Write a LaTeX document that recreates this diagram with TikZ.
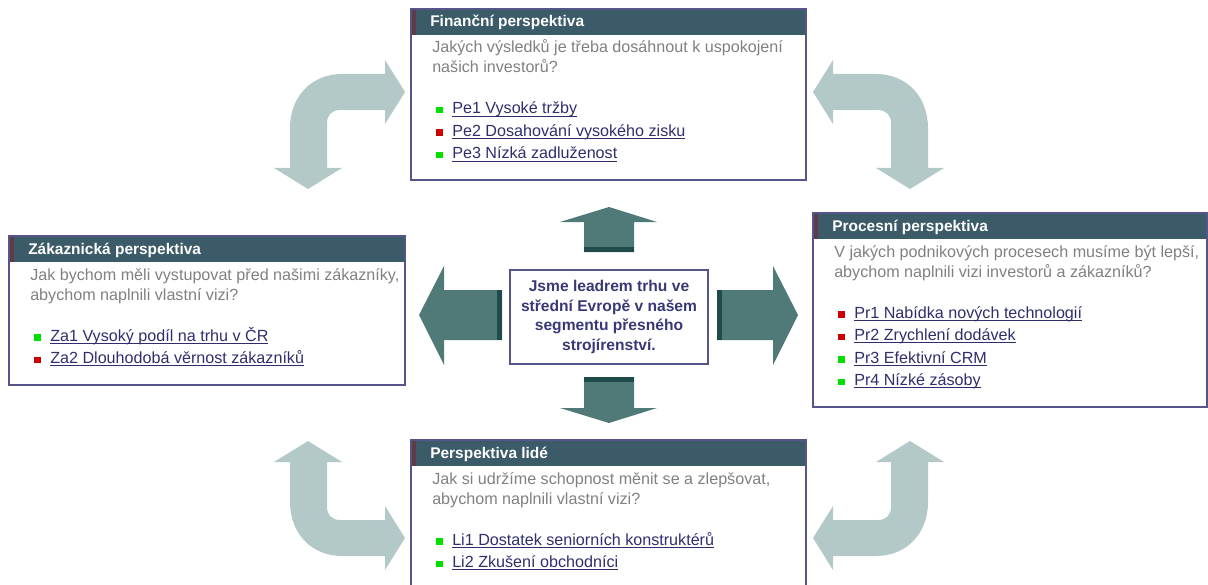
\documentclass[tikz,border=0pt]{standalone}
\usepackage{fontspec}
\setmainfont{Liberation Sans}
\definecolor{hlava}{HTML}{3B5B68}
\definecolor{pruh}{HTML}{5E3B46}
\definecolor{ramec}{HTML}{55558A}
\definecolor{otazka}{HTML}{808080}
\definecolor{odkaz}{HTML}{2E2E6E}
\definecolor{zelena}{HTML}{00E000}
\definecolor{cervena}{HTML}{CC0000}
\definecolor{sipka}{HTML}{4F7A78}
\definecolor{sipkastin}{HTML}{1F4C4A}
\definecolor{svetla}{HTML}{B3C9C8}
\definecolor{vizetext}{HTML}{383878}
\newcommand{\podtrh}[1]{\setbox0\hbox{#1}\rlap{\rule[-1.8pt]{\wd0}{0.6pt}}\box0}

\tikzset{
  hdr/.style={anchor=base west, inner sep=0pt, text=white, font=\fontsize{11.6}{14}\selectfont\bfseries},
  ques/.style={anchor=base west, inner sep=0pt, text=otazka, font=\fontsize{12.1}{14}\selectfont},
  item/.style={anchor=base west, inner sep=0pt, text=odkaz, font=\fontsize{12.1}{14}\selectfont},
  vizebox/.style={draw=ramec, line width=1.1pt, minimum width=148.5pt, minimum height=70.5pt,
    align=center, text=vizetext, font=\fontsize{11.7}{14.6}\selectfont\bfseries},
  ohyb/.pic={
    \fill[svetla] (405,92) -- (385,60) -- (385,74) -- (342,74)
      .. controls (311,74) and (290,97) .. (290,128) -- (290,168) -- (274,168)
      -- (308,189) -- (342,168) -- (327,168) -- (327,123)
      .. controls (327,115) and (332,110) .. (340,110) -- (385,110) -- (385,124) -- cycle;
  }
}

\begin{document}
\begin{tikzpicture}[x=0.75pt,y=-0.75pt]
\useasboundingbox (0,0) rectangle (1208,585);

% Curved arrows
\pic at (0,0) {ohyb};
\pic[xscale=-1] at (1218,0) {ohyb};
\pic[yscale=-1] at (0,630) {ohyb};
\pic[scale=-1] at (1218,630) {ohyb};

% Financni perspektiva
\fill[hlava] (411,9) rectangle (806,35);
\fill[pruh] (411,9) rectangle (416,35);
\draw[ramec, line width=0.8pt] (411,9) rectangle (806,180);
\node[hdr] (finH) at (430,27) {Finanční perspektiva};
\node[ques] (finQa) at (432,53) {Jakých výsledků je třeba dosáhnout k uspokojení};
\node[ques] (finQb) at (432,73) {našich investorů?};
\fill[zelena] (436,107) rectangle (442.5,113.5);
\node[item] (fin1) at (452,114) {\podtrh{Pe1 Vysoké tržby}};
\fill[cervena] (436,129.5) rectangle (442.5,136);
\node[item] (fin2) at (452,136.5) {\podtrh{Pe2 Dosahování vysokého zisku}};
\fill[zelena] (436,152) rectangle (442.5,158.5);
\node[item] (fin3) at (452,159) {\podtrh{Pe3 Nízká zadluženost}};

% Zakaznicka perspektiva
\fill[hlava] (9,236) rectangle (405,262);
\fill[pruh] (9,236) rectangle (14,262);
\draw[ramec, line width=0.8pt] (9,236) rectangle (405,385);
\node[hdr] (zakH) at (28,254) {Zákaznická perspektiva};
\node[ques] (zakQa) at (30,280) {Jak bychom měli vystupovat před našimi zákazníky,};
\node[ques] (zakQb) at (30,300) {abychom naplnili vlastní vizi?};
\fill[zelena] (34,334) rectangle (40.5,340.5);
\node[item] (zak1) at (50,341) {\podtrh{Za1 Vysoký podíl na trhu v ČR}};
\fill[cervena] (34,356.5) rectangle (40.5,363);
\node[item] (zak2) at (50,363.5) {\podtrh{Za2 Dlouhodobá věrnost zákazníků}};

% Procesni perspektiva
\fill[hlava] (813,213) rectangle (1207,239);
\fill[pruh] (813,213) rectangle (818,239);
\draw[ramec, line width=0.8pt] (813,213) rectangle (1207,407);
\node[hdr] (proH) at (832,231) {Procesní perspektiva};
\node[ques] (proQa) at (834,257) {V jakých podnikových procesech musíme být lepší,};
\node[ques] (proQb) at (834,277) {abychom naplnili vizi investorů a zákazníků?};
\fill[cervena] (838,311) rectangle (844.5,317.5);
\node[item] (pro1) at (854,318) {\podtrh{Pr1 Nabídka nových technologií}};
\fill[cervena] (838,333.5) rectangle (844.5,340);
\node[item] (pro2) at (854,340.5) {\podtrh{Pr2 Zrychlení dodávek}};
\fill[zelena] (838,356) rectangle (844.5,362.5);
\node[item] (pro3) at (854,363) {\podtrh{Pr3 Efektivní CRM}};
\fill[zelena] (838,378.5) rectangle (844.5,385);
\node[item] (pro4) at (854,385.5) {\podtrh{Pr4 Nízké zásoby}};

% Perspektiva lide
\fill[hlava] (411,440) rectangle (806,466);
\fill[pruh] (411,440) rectangle (416,466);
\draw[ramec, line width=0.8pt] (411,590) -- (411,440) -- (806,440) -- (806,590);
\node[hdr] (lidH) at (430,458) {Perspektiva lidé};
\node[ques] (lidQa) at (432,484) {Jak si udržíme schopnost měnit se a zlepšovat,};
\node[ques] (lidQb) at (432,504) {abychom naplnili vlastní vizi?};
\fill[zelena] (436,538) rectangle (442.5,544.5);
\node[item] (lid1) at (452,545) {\podtrh{Li1 Dostatek seniorních konstruktérů}};
\fill[zelena] (436,560.5) rectangle (442.5,567);
\node[item] (lid2) at (452,567.5) {\podtrh{Li2 Zkušení obchodníci}};

% Vize and the arrows round it
\node[vizebox] (vize) at (609,317) {Jsme leadrem trhu ve\\ střední Evropě v našem\\ segmentu přesného\\ strojírenství.};
\fill[sipka] (584,252) -- (584,222) -- (560,222) -- (609,207) -- (657,222) -- (634,222) -- (634,252) -- cycle;
\fill[sipkastin] (584,247) rectangle (634,252);
\fill[sipka] (584,377) -- (584,408) -- (560,408) -- (609,423) -- (657,408) -- (634,408) -- (634,377) -- cycle;
\fill[sipkastin] (584,377) rectangle (634,382);
\fill[sipka] (502,290) -- (444,290) -- (444,266) -- (419,315) -- (444,365) -- (444,340) -- (502,340) -- cycle;
\fill[sipkastin] (497,290) rectangle (502,340);
\fill[sipka] (717,290) -- (773,290) -- (773,266) -- (798,315) -- (773,365) -- (773,340) -- (717,340) -- cycle;
\fill[sipkastin] (717,290) rectangle (722,340);
\end{tikzpicture}
\end{document}
